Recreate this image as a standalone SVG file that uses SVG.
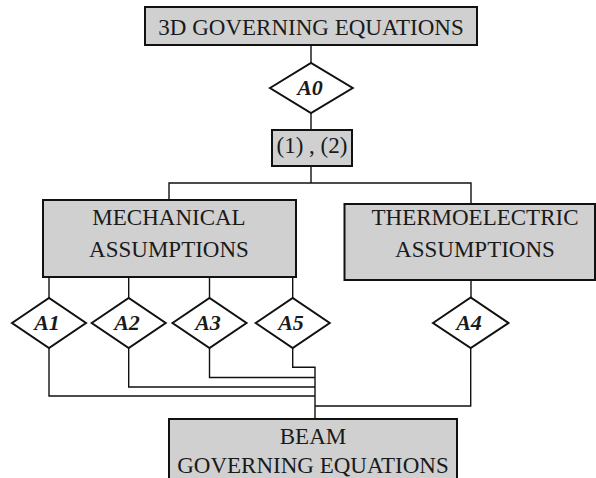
<svg xmlns="http://www.w3.org/2000/svg" width="596" height="478" viewBox="0 0 596 478">
<style>
.box{fill:#d0d0d0;stroke:#111;stroke-width:2}
.dia{fill:#fff;stroke:#111;stroke-width:2}
.t{font-family:'Liberation Serif','DejaVu Serif',serif;font-size:23px;fill:#1a1a1a;text-anchor:middle}
.a{font-family:'Liberation Serif','DejaVu Serif',serif;font-size:22px;font-weight:bold;font-style:italic;fill:#1a1a1a;text-anchor:middle}
.c{fill:none;stroke:#111;stroke-width:1.4}
</style>
<rect width="596" height="478" fill="#fff"/>
<g id="connectors">
<path class="c" d="M311,45V63M311,113V130M311,166V183M169,200V183H471V204"/>
<path class="c" d="M49,277V298M128.7,277V298M209.5,277V298M292.7,277V298M471,280V297.5"/>
<path class="c" d="M49,348V396H315M128.7,348V387H315M209.5,348V377.5H315M292.7,348V367.3H315V419M470.7,348V406H315"/>
</g>
<g id="top"><rect class="box" x="145" y="7" width="332" height="38"/><text class="t" x="311" y="35">3D GOVERNING EQUATIONS</text></g>
<g id="A0"><polygon class="dia" points="270,88 311,63 352.7,88 311,113"/><text class="a" x="310" y="95">A0</text></g>
<g id="eq"><rect class="box" x="272" y="130" width="80" height="36"/><text class="t" x="312" y="153">(1) , (2)</text></g>
<g id="mech"><rect class="box" x="43" y="200" width="253" height="77"/><text class="t" x="169" y="225">MECHANICAL</text><text class="t" x="169" y="257">ASSUMPTIONS</text></g>
<g id="thermo"><rect class="box" x="344.5" y="204" width="250.5" height="76"/><text class="t" x="475" y="225">THERMOELECTRIC</text><text class="t" x="475" y="257">ASSUMPTIONS</text></g>
<g id="A1"><polygon class="dia" points="12,323 49,298 86,323 49,348"/><text class="a" x="47" y="330">A1</text></g>
<g id="A2"><polygon class="dia" points="91.7,323 128.7,298 165.7,323 128.7,348"/><text class="a" x="127" y="330">A2</text></g>
<g id="A3"><polygon class="dia" points="172.5,323 209.5,298 246.5,323 209.5,348"/><text class="a" x="208" y="330">A3</text></g>
<g id="A5"><polygon class="dia" points="255.7,323 292.7,298 329.7,323 292.7,348"/><text class="a" x="291" y="330">A5</text></g>
<g id="A4"><polygon class="dia" points="433,323 470.7,297.5 508.4,323 470.7,348"/><text class="a" x="469" y="330">A4</text></g>
<g id="beam"><rect class="box" x="169" y="419" width="288" height="62"/><text class="t" x="313" y="444">BEAM</text><text class="t" x="313" y="473">GOVERNING EQUATIONS</text></g>
</svg>
